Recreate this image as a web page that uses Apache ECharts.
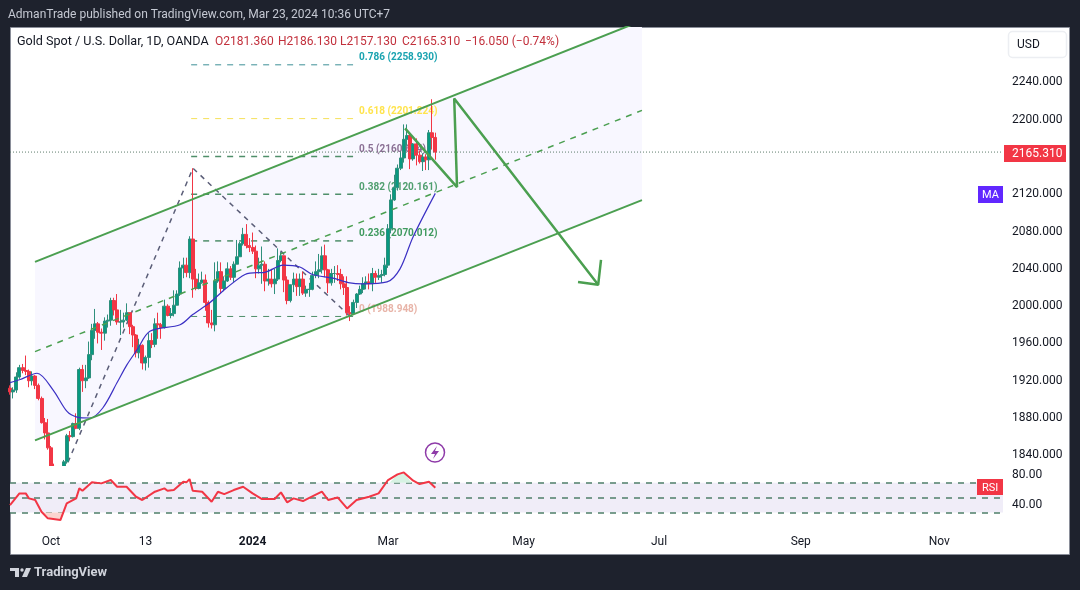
<!DOCTYPE html>
<html>
<head>
<meta charset="utf-8">
<title>Gold Spot / U.S. Dollar</title>
<script src="https://cdn.jsdelivr.net/npm/echarts@6/dist/echarts.min.js"></script>
<style>
  html, body { margin: 0; padding: 0; background: #1e222d; }
  #chart { width: 1080px; height: 590px; }
</style>
</head>
<body>
<div id="chart"></div>
<script>
// one row per trading session, Sep 13 2023 to Mar 22 2024
const barOpen = [
  1912, 1908, 1910, 1924, 1934, 1931, 1930, 1920, 1925, 1915, 1901, 1875, 1864,
  1848, 1828, 1822, 1821, 1820, 1833, 1861, 1860, 1874, 1869, 1932, 1920, 1923, 1948, 1974, 1981, 1972, 1971, 1984, 1985, 2006, 1996, 1983, 1983, 1985,
  1993, 1978, 1969, 1950, 1958, 1939, 1945, 1963, 1959, 1981, 1980, 1977, 2000, 1990, 1992, 2001, 2013, 2041, 2044, 2036,
  2072, 2029, 2019, 2025, 2028, 2004, 1982, 1980, 2027, 2037, 2019, 2027, 2040, 2031, 2045, 2053, 2067, 2077, 2065,
  2063, 2059, 2040, 2044, 2045, 2027, 2029, 2024, 2029, 2049, 2054, 2028, 2006, 2023, 2029, 2021, 2029, 2014, 2018, 2018, 2033, 2037, 2039, 2054,
  2039, 2025, 2035, 2035, 2034, 2024, 2020, 1993, 1992, 2004, 2013, 2018, 2024, 2026, 2024, 2035, 2031, 2033, 2034, 2044,
  2083, 2114, 2127, 2148, 2159, 2179, 2183, 2158, 2174, 2162, 2155, 2160, 2157, 2186, 2181
];
const barClose = [
  1908, 1910, 1924, 1934, 1931, 1930, 1920, 1925, 1915, 1901, 1875, 1864, 1848,
  1828, 1822, 1821, 1820, 1833, 1861, 1860, 1874, 1869, 1932, 1920, 1923, 1948, 1974, 1981, 1972, 1971, 1984, 1985, 2006, 1996, 1983, 1983, 1985, 1993,
  1978, 1969, 1950, 1958, 1939, 1945, 1963, 1959, 1981, 1980, 1977, 2000, 1990, 1992, 2001, 2013, 2041, 2044, 2036, 2072,
  2029, 2019, 2025, 2028, 2004, 1982, 1980, 2027, 2037, 2019, 2027, 2040, 2031, 2045, 2053, 2067, 2077, 2065, 2063,
  2059, 2040, 2044, 2045, 2027, 2029, 2024, 2029, 2049, 2054, 2028, 2006, 2023, 2029, 2021, 2029, 2014, 2018, 2018, 2033, 2037, 2039, 2054, 2039,
  2025, 2035, 2035, 2034, 2024, 2020, 1993, 1992, 2004, 2013, 2018, 2024, 2026, 2024, 2035, 2031, 2033, 2034, 2044, 2083,
  2114, 2127, 2148, 2159, 2179, 2183, 2158, 2174, 2162, 2155, 2160, 2157, 2186, 2181, 2165.31
];
const barLow = [
  1905, 1901, 1907, 1922, 1928, 1926, 1913, 1915, 1911, 1899, 1874, 1857, 1846,
  1826, 1815, 1817, 1813, 1810, 1831, 1855, 1859, 1868, 1867, 1908, 1912, 1922, 1942, 1965, 1960, 1953, 1963, 1977, 1979, 1990, 1980, 1969, 1977, 1984,
  1970, 1956, 1945, 1944, 1932, 1931, 1934, 1955, 1956, 1965, 1965, 1976, 1989, 1987, 1989, 2001, 2011, 2030, 2031, 2030,
  2009, 2017, 2018, 2024, 1995, 1977, 1976, 1973, 2025, 2014, 2016, 2026, 2028, 2026, 2045, 2053, 2065, 2062, 2058,
  2056, 2030, 2035, 2024, 2016, 2022, 2020, 2013, 2027, 2047, 2015, 2002, 2004, 2015, 2011, 2011, 2012, 2010, 2010, 2017, 2030, 2030, 2035, 2031,
  2014, 2022, 2025, 2027, 2018, 2012, 1990, 1984, 1991, 1998, 2012, 2014, 2018, 2018, 2016, 2025, 2028, 2025, 2032, 2041,
  2078, 2113, 2124, 2146, 2154, 2172, 2147, 2156, 2151, 2153, 2145, 2146, 2146, 2168, 2157.13
];
const barHigh = [
  1915, 1913, 1929, 1937, 1938, 1947, 1932, 1930, 1926, 1917, 1903, 1880, 1879,
  1850, 1831, 1825, 1826, 1835, 1863, 1866, 1875, 1885, 1934, 1937, 1937, 1962, 1981, 1997, 1983, 1976, 1988, 1991, 2009, 2009, 2013, 1996, 1993, 2003,
  1993, 1980, 1970, 1965, 1959, 1947, 1971, 1971, 1987, 1993, 1982, 2007, 2002, 1998, 2017, 2017, 2048, 2052, 2052, 2075,
  2148, 2040, 2035, 2037, 2034, 2006, 1996, 2047, 2048, 2047, 2032, 2047, 2043, 2048, 2071, 2069, 2084, 2088, 2073,
  2079, 2065, 2052, 2064, 2048, 2040, 2040, 2040, 2062, 2058, 2054, 2032, 2023, 2036, 2035, 2035, 2037, 2022, 2025, 2037, 2048, 2056, 2064, 2066,
  2040, 2040, 2043, 2044, 2040, 2032, 2032, 2000, 2007, 2014, 2022, 2031, 2032, 2035, 2041, 2038, 2040, 2039, 2052, 2088,
  2120, 2141, 2152, 2166, 2195, 2195, 2185, 2175, 2180, 2167, 2164, 2163, 2189, 2222, 2186.13
];
const lastClose = 2165.31;

const maBars = [0, 3, 8.6, 13.7, 18.1, 21.3, 25.4, 29.5, 34, 37.1, 40.3, 44.4, 54, 58, 63.5, 68.9, 74.6, 78.4, 80.3, 86.7, 92, 96, 102.5, 107.9, 112, 119.7, 123.8, 127.9, 135];
const maValues = [1918, 1921, 1928, 1910, 1887, 1881, 1880, 1891, 1918, 1937, 1953, 1973, 1980, 1991, 2004, 2020, 2034, 2036, 2036, 2044, 2042, 2034, 2030, 2025, 2024, 2026, 2040, 2074, 2121];

const rsiBars = [0, 3, 5, 6, 8, 10, 12, 16, 18, 21, 22, 23, 26, 29, 32, 34, 37, 40, 42, 46, 49, 50, 52, 55, 56, 57, 58, 61, 64, 66, 68, 71, 74, 77, 80, 84, 86, 88, 90, 93, 95, 99, 101, 104, 107, 110, 114, 117, 120, 123, 125, 128, 130, 133, 135];
const rsiValues = [40.1, 55.8, 55.8, 49.1, 46.9, 31.1, 22.2, 19.9, 42.4, 49.1, 62.6, 59.4, 70.7, 69.3, 73.8, 64.8, 64.8, 51.3, 46.9, 58.1, 62.6, 59.4, 60.3, 71.6, 70.7, 75.1, 59.4, 58.1, 44.6, 58.1, 54.9, 60.3, 64.8, 55.8, 48.2, 48.2, 57.2, 43.7, 49.1, 45.5, 49.9, 58.1, 46.9, 50.4, 35.6, 46.9, 51.3, 55.8, 73.8, 81.4, 84.1, 72.9, 68.4, 71.6, 63.5];
const rsiHotBars = [120.5, 123, 125, 127.5];
const rsiHotValues = [70, 81.4, 84.1, 70];
const rsiColdBars = [10.5, 12, 16, 17];
const rsiColdValues = [30, 22.2, 19.9, 30];

// drawings on the chart
const channelBars = [7.94, 200.6];
const channelTop = [2047.5, 2306.3];
const channelMid = [1951.2, 2210];
const channelBottom = [1856.05, 2113.8];

const fibBars = [57.5, 108.9];
const fibPrices = [2258.93, 2201.224, 2160.664, 2120.161, 2070.012, 1988.948];
const fibLabels = ['0.786 (2258.930)', '0.618 (2201.224)', '0.5 (2160.664)', '0.382 (2120.161)', '0.236 (2070.012)', '0 (1988.948)'];

const swingBars = [18.4, 58.07, 107.6];
const swingPrices = [1832.5, 2148, 1990];

const arrowBars = [125.4, 141.9, 141, 186.7];
const arrowPrices = [2190.8, 2127.7, 2222.9, 2022.9];
const arrowHeadBars = [180.3, 186.7, 187.6];
const arrowHeadPrices = [2026, 2022.9, 2049.6];

const priceTicks = [1840, 1880, 1920, 1960, 2000, 2040, 2080, 2120, 2200, 2240];
const rsiTicks = [40, 80];
const timeTickBars = [13, 43, 77, 120, 163, 206, 251, 295];
const timeTickLabels = ['Oct', '13', '2024', 'Mar', 'May', 'Jul', 'Sep', 'Nov'];

const FONT = 'Roboto, "Noto Sans", sans-serif';
const GREEN = '#4b9f50';
const fibColors = ['#3d8f96', '#f5e05a', '#4f8f6a', '#4f8f6a', '#4f8f6a', '#4f8f6a'];
const fibWidths = [1, 1, 1.5, 1.5, 1.5, 1];
const fibTextColors = ['#1aa3b0', '#ffe44d', '#8a6f94', '#4f9e6f', '#3f9a5f', '#e8b4a8'];

const zip = (xs, ys) => xs.map((x, i) => [x, ys[i]]);

const chart = echarts.init(document.getElementById('chart'), null, { renderer: 'canvas' });

const drawnLine = (name, xs, ys, style, z) => ({
  name: name,
  type: 'line',
  data: zip(xs, ys),
  showSymbol: false,
  symbol: 'none',
  silent: true,
  animation: false,
  z: z,
  lineStyle: style
});

const option = {
  backgroundColor: '#1e222d',
  animation: false,
  textStyle: { fontFamily: FONT },
  grid: [
    { left: 10, top: 27, width: 993, height: 439 },
    { left: 10, top: 466, width: 993, height: 60 }
  ],
  xAxis: [
    { type: 'value', gridIndex: 0, min: 0, max: 315.2, show: false },
    {
      type: 'value',
      gridIndex: 1,
      min: 0,
      max: 315.2,
      axisLine: { show: false },
      axisTick: { show: false },
      splitLine: { show: false },
      axisLabel: {
        customValues: timeTickBars,
        margin: 10,
        fontSize: 12,
        color: '#131722',
        formatter: function (v) {
          const label = timeTickLabels[timeTickBars.indexOf(v)];
          return label === '2024' ? '{b|2024}' : label;
        },
        rich: { b: { fontWeight: 'bold', fontSize: 12, color: '#131722' } }
      }
    }
  ],
  yAxis: [
    {
      type: 'value',
      gridIndex: 0,
      position: 'right',
      min: 1828.5,
      max: 2299.5,
      axisLine: { show: false },
      axisTick: { show: false },
      splitLine: { show: false },
      axisLabel: {
        customValues: priceTicks,
        margin: 9,
        fontSize: 12,
        padding: [5, 0, 0, 0],
        color: '#131722',
        formatter: function (v) { return v.toFixed(3); }
      }
    },
    {
      type: 'value',
      gridIndex: 1,
      position: 'right',
      min: 11.9,
      max: 92.7,
      axisLine: { show: false },
      axisTick: { show: false },
      splitLine: { show: false },
      axisLabel: {
        customValues: rsiTicks,
        margin: 9,
        fontSize: 12,
        padding: [6, 0, 0, 0],
        color: '#131722',
        formatter: function (v) { return v.toFixed(2); }
      }
    }
  ],
  series: [
    {
      name: 'Channel fill',
      type: 'custom',
      xAxisIndex: 0,
      yAxisIndex: 0,
      clip: true,
      silent: true,
      z: 1,
      data: [0],
      renderItem: function (params, api) {
        const pts = [
          api.coord([channelBars[0], channelTop[0]]),
          api.coord([channelBars[1], channelTop[1]]),
          api.coord([channelBars[1], channelBottom[1]]),
          api.coord([channelBars[0], channelBottom[0]])
        ];
        return { type: 'polygon', shape: { points: pts }, style: { fill: '#f8f7ff' } };
      }
    },
    {
      name: 'Fib levels',
      type: 'custom',
      xAxisIndex: 0,
      yAxisIndex: 0,
      silent: true,
      z: 2,
      encode: { x: [0, 1], y: 2 },
      data: fibPrices.map(function (p, i) { return [fibBars[0], fibBars[1], p, i]; }),
      renderItem: function (params, api) {
        const a = api.coord([api.value(0), api.value(2)]);
        const b = api.coord([api.value(1), api.value(2)]);
        const i = api.value(3);
        return {
          type: 'group',
          children: [
            {
              type: 'line',
              shape: { x1: a[0], y1: a[1], x2: b[0], y2: b[1] },
              style: { stroke: fibColors[i], lineWidth: fibWidths[i], lineDash: [6, 6] }
            },
            {
              type: 'text',
              style: {
                x: b[0] + 6,
                y: a[1] - 7,
                text: fibLabels[i],
                fill: fibTextColors[i],
                font: 'bold 10px ' + FONT,
                verticalAlign: 'middle'
              }
            }
          ]
        };
      }
    },
    drawnLine('Swing', swingBars, swingPrices, { color: '#5b5e78', width: 1.5, type: [5, 5] }, 3),
    {
      name: 'Gold Spot',
      type: 'candlestick',
      xAxisIndex: 0,
      yAxisIndex: 0,
      barWidth: 3.5,
      z: 4,
      encode: { x: 0, y: [1, 2, 3, 4] },
      itemStyle: { color: '#089981', color0: '#f23645', borderColor: '#2f8f7c', borderColor0: '#f23645', borderWidth: 1 },
      data: barOpen.map(function (o, i) { return [i, o, barClose[i], barLow[i], barHigh[i]]; })
    },
    Object.assign(drawnLine('MA', maBars, maValues, { color: '#3b30c4', width: 1.2 }, 5), { smooth: 0.3 }),
    {
      name: 'Last price',
      type: 'line',
      data: [[0, lastClose], [315.2, lastClose]],
      symbol: 'none',
      silent: true,
      z: 5,
      lineStyle: { color: '#5f7d6d', width: 1, type: [1, 2] }
    },
    drawnLine('Channel top', channelBars, channelTop, { color: GREEN, width: 2 }, 6),
    drawnLine('Channel mid', channelBars, channelMid, { color: GREEN, width: 1.5, type: [6, 6] }, 6),
    drawnLine('Channel bottom', channelBars, channelBottom, { color: GREEN, width: 2 }, 6),
    drawnLine('Arrow', arrowBars, arrowPrices, { color: GREEN, width: 2.5 }, 7),
    drawnLine('Arrow head', arrowHeadBars, arrowHeadPrices, { color: GREEN, width: 2.5 }, 7),
    {
      name: 'RSI',
      type: 'line',
      xAxisIndex: 1,
      yAxisIndex: 1,
      data: zip(rsiBars, rsiValues),
      symbol: 'none',
      silent: true,
      z: 10,
      lineStyle: { color: '#f23645', width: 2 },
      markArea: {
        silent: true,
        z: 8,
        itemStyle: { color: '#f0edf8' },
        data: [[{ yAxis: 70 }, { yAxis: 30 }]]
      },
      markLine: {
        silent: true,
        z: 8,
        symbol: 'none',
        label: { show: false },
        lineStyle: { color: '#4f7f6a', width: 1.5, type: [6, 6] },
        data: [{ yAxis: 70 }, { yAxis: 50 }, { yAxis: 30 }]
      }
    },
    {
      name: 'RSI overbought',
      type: 'line',
      xAxisIndex: 1,
      yAxisIndex: 1,
      data: zip(rsiHotBars, rsiHotValues),
      symbol: 'none',
      silent: true,
      z: 9,
      lineStyle: { width: 0 },
      areaStyle: { color: '#d7f2e3', opacity: 1, origin: 70 }
    },
    {
      name: 'RSI oversold',
      type: 'line',
      xAxisIndex: 1,
      yAxisIndex: 1,
      data: zip(rsiColdBars, rsiColdValues),
      symbol: 'none',
      silent: true,
      z: 9,
      lineStyle: { width: 0 },
      areaStyle: { color: '#fbd5d0', opacity: 1, origin: 30 }
    }
  ]
};
chart.setOption(option);

// header, badges and frame are plain text and boxes around the plot
const text = (x, y, str, fill, font, extra) => ({
  type: 'text',
  z: 100,
  style: Object.assign({ x: x, y: y, text: str, fill: fill, font: font || '12px ' + FONT, verticalAlign: 'middle' }, extra || {})
});
const tagY = chart.convertToPixel({ yAxisIndex: 0 }, lastClose);
const logoColor = '#d1d4dc';

chart.setOption({
  graphic: [
    { type: 'rect', z: -10, shape: { x: 10.5, y: 27.5, width: 1059, height: 527 }, style: { fill: '#ffffff', stroke: '#8a8e99', lineWidth: 1 } },
    // candles running below the price pane stop at its edge
    { type: 'rect', z: 7.5, shape: { x: 11, y: 466, width: 992, height: 60 }, style: { fill: '#ffffff' } },
    text(8, 14.5, 'AdmanTrade published on TradingView.com, Mar 23, 2024 10:36 UTC+7', '#c5c9d3'),
    text(17, 42, 'Gold Spot / U.S. Dollar, 1D, OANDA', '#131722', '12.6px ' + FONT),
    text(215, 42, 'O2181.360', '#c2303c'),
    text(278, 42, 'H2186.130', '#c2303c'),
    text(340, 42, 'L2157.130', '#c2303c'),
    text(402, 42, 'C2165.310', '#c2303c'),
    text(465, 42, '\u221216.050 (\u22120.74%)', '#c2303c'),
    { type: 'rect', z: 100, shape: { x: 1008.5, y: 31.5, width: 58, height: 26, r: 4 }, style: { fill: '#ffffff', stroke: '#eceef2', lineWidth: 1.5 } },
    text(1017, 45, 'USD', '#131722'),
    { type: 'rect', z: 100, shape: { x: 1004, y: tagY - 7, width: 62, height: 17 }, style: { fill: '#f23645' } },
    text(1012, tagY + 2, '2165.310', '#ffffff'),
    { type: 'rect', z: 100, shape: { x: 978, y: 186, width: 25, height: 17 }, style: { fill: '#6127ff' } },
    text(982, 195, 'MA', '#ffffff', '11px ' + FONT),
    { type: 'rect', z: 100, shape: { x: 977, y: 479, width: 26, height: 16 }, style: { fill: '#f23645' } },
    text(982, 488, 'RSI', '#ffffff', '11px ' + FONT),
    { type: 'circle', z: 100, shape: { cx: 435, cy: 452.5, r: 9.5 }, style: { fill: '#ffffff', stroke: '#8e3aa8', lineWidth: 1.5 } },
    { type: 'polygon', z: 101, shape: { points: [[437, 446], [431, 454], [435, 454], [433, 459], [439, 451], [435, 451]] }, style: { fill: '#8e3aa8' } },
    // TradingView mark
    { type: 'polygon', z: 100, shape: { points: [[10, 568], [19, 568], [19, 577], [15, 577], [15, 571], [10, 571]] }, style: { fill: logoColor } },
    { type: 'circle', z: 100, shape: { cx: 22, cy: 570, r: 1.7 }, style: { fill: logoColor } },
    { type: 'polygon', z: 100, shape: { points: [[26, 568], [31, 568], [27, 577], [22, 577]] }, style: { fill: logoColor } },
    text(34, 572.5, 'TradingView', logoColor, 'bold 13px ' + FONT)
  ]
});
</script>
</body>
</html>
